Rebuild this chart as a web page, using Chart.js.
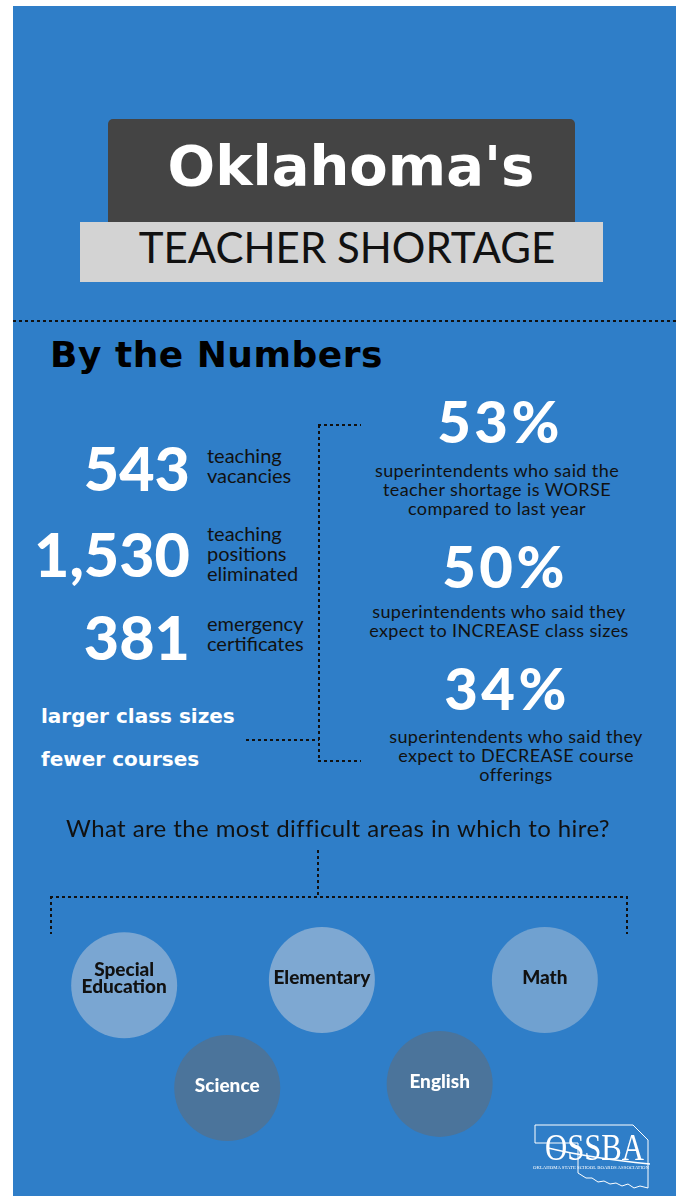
<!DOCTYPE html>
<html>
<head>
<meta charset="utf-8">
<script src="https://cdn.jsdelivr.net/npm/chart.js"></script>
<style>
  html, body { margin: 0; padding: 0; background: #fff; }
  body { width: 676px; height: 1199px; position: relative; overflow: hidden; font-family: Lato, "Noto Sans", sans-serif; }
  #page { position: absolute; left: 13px; top: 6px; width: 663px; height: 1190px; background: #2f7ec8; }
  .abs { position: absolute; white-space: nowrap; }
  .hdash { position: absolute; height: 2px; background: repeating-linear-gradient(to right, #111 0 3px, transparent 3px 6px); }
  .vdash { position: absolute; width: 2px; background: repeating-linear-gradient(to bottom, #111 0 3px, transparent 3px 6px); }
  /* bubble chart pads its area by the bubble radius (53px), so the canvas sticks out by that much */
  #areas { position: absolute; left: -34px; top: 823px; }
</style>
</head>
<body>
<div id="page"></div>
<div class="abs" style="left:108px;top:119px;width:467px;height:103px;background:#444;border-radius:5px 5px 0 0"></div>
<div class="abs" style="left:80px;top:222px;width:523px;height:60px;background:#d3d3d3"></div>

<!-- dotted connectors -->
<div class="hdash" style="left:13px;top:320px;width:663px"></div>
<div class="vdash" style="left:318px;top:425px;height:336px"></div>
<div class="hdash" style="left:318px;top:424px;width:43px"></div>
<div class="hdash" style="left:246px;top:739px;width:73px"></div>
<div class="hdash" style="left:318px;top:760px;width:43px"></div>
<div class="vdash" style="left:317px;top:850px;height:46px"></div>
<div class="hdash" style="left:50px;top:896px;width:578px"></div>
<div class="vdash" style="left:50px;top:896px;height:38px"></div>
<div class="vdash" style="left:626px;top:896px;height:38px"></div>

<canvas id="areas" width="737" height="421"></canvas>

<svg class="abs" style="left:530px;top:1118px" width="125" height="75" viewBox="0 0 125 75">
  <path d="M5 7 L103 7 L118 22 L118 70 L110 68 L104 70 L98 66 L92 68 L86 65 L80 66 L74 63 L68 64 L62 60 L56 60 L48 55 L48 25 L5 25 Z"
        fill="none" stroke="#fff" stroke-width="1"/>
  <text x="15" y="42" font-family="Liberation Serif" font-size="38" fill="#fff" textLength="99" lengthAdjust="spacingAndGlyphs">OSSBA</text>
  <path d="M18 30 Q60 40 120 46" fill="none" stroke="#fff" stroke-width="1.5"/>
  <text x="3" y="51" font-family="Liberation Serif" font-size="5" fill="#fff" textLength="116" lengthAdjust="spacingAndGlyphs">OKLAHOMA STATE SCHOOL BOARDS ASSOCIATION</text>
</svg>

<script>
// header
const title = "Oklahoma's";
const subtitle = 'TEACHER SHORTAGE';
const sectionTitle = 'By the Numbers';

// left column numbers
const statValues = ['543', '1,530', '381'];
const statLabels = [['teaching', 'vacancies'], ['teaching', 'positions', 'eliminated'], ['emergency', 'certificates']];
const effects = ['larger class sizes', 'fewer courses'];

// superintendent survey
const surveyPcts = [53, 50, 34];
const surveyText = [
  ['superintendents who said the', 'teacher shortage is WORSE', 'compared to last year'],
  ['superintendents who said they', 'expect to INCREASE class sizes'],
  ['superintendents who said they', 'expect to DECREASE course', 'offerings']
];

// hardest areas to hire
const question = 'What are the most difficult areas in which to hire?';
const areas = ['Special Education', 'Elementary', 'Math', 'Science', 'English'];
const areaCol = [1, 2.88, 5, 1.98, 4.0];
const areaRow = [1.04, 0.99, 0.99, 2.02, 1.98];

// font metrics (ascent, descent) so a line can be put on a baseline
const METRICS = { Lato: [0.987, 0.213], 'DejaVu Sans': [0.928, 0.236] };

function txt(lines, x, base, size, weight, color, align, lh, family, spacing) {
  lh = lh || size;
  family = family || 'Lato';
  const [asc, desc] = METRICS[family];
  const d = document.createElement('div');
  d.className = 'abs';
  d.innerHTML = [].concat(lines).join('<br>');
  const top = base - ((lh - (asc + desc) * size) / 2 + asc * size);
  d.style.cssText += `top:${top}px;font-family:'${family}';font-size:${size}px;font-weight:${weight};color:${color};` +
    `line-height:${lh}px;text-align:${align};letter-spacing:${spacing || 0}px;`;
  if (align === 'center') { d.style.left = x + 'px'; d.style.transform = 'translateX(-50%)'; }
  else if (align === 'right') { d.style.right = (676 - x) + 'px'; }
  else { d.style.left = x + 'px'; }
  document.body.appendChild(d);
  return d;
}

txt(title, 351, 185, 56, 700, '#fff', 'center', 0, 'DejaVu Sans');
txt(subtitle, 347, 263, 42, 400, '#111', 'center');
txt(sectionTitle, 50, 367, 36, 700, '#000', 'left', 0, 'DejaVu Sans', 0.5);

const statBase = [491, 577, 660];
const labelBase = [463, 541, 631];
statValues.forEach((v, i) => {
  txt(v, 190, statBase[i], 61, 900, '#fff', 'right');
  txt(statLabels[i], 207, labelBase[i], 20, 400, '#111', 'left', 20);
});

const effBase = [723, 766];
effects.forEach((e, i) => txt(e, 41, effBase[i], 20, 700, '#fff', 'left', 0, 'DejaVu Sans'));

const pctX = [500, 505, 507];
const pctBase = [443, 588, 710];
const descX = [497, 499, 516];
const descBase = [477, 618, 743];
surveyPcts.forEach((p, i) => {
  txt(p + '%', pctX[i], pctBase[i], 58, 900, '#fff', 'center', 0, 'Lato', 3.5);
  txt(surveyText[i], descX[i], descBase[i], 18, 400, '#111', 'center', 19, 'Lato', 0.4);
});

txt(question, 338, 837, 24, 400, '#111', 'center', 0, 'Lato', 0.4);

// names written inside each circle
const areaLabels = {
  id: 'areaLabels',
  afterDatasetsDraw(chart) {
    const ctx = chart.ctx;
    chart.getDatasetMeta(0).data.forEach((pt, i) => {
      const lines = areas[i].split(' ');
      ctx.save();
      ctx.font = '900 19px Lato';
      ctx.textAlign = 'center';
      ctx.textBaseline = 'middle';
      ctx.fillStyle = i < 3 ? '#111' : '#fff';
      const lh = 17;
      const lift = 2 + (lines.length - 1) * 5;
      lines.forEach((l, j) => {
        ctx.fillText(l, pt.x, pt.y + (j - (lines.length - 1) / 2) * lh - lift);
      });
      ctx.restore();
    });
  }
};

new Chart(document.getElementById('areas'), {
  type: 'bubble',
  data: {
    datasets: [{
      data: areas.map((a, i) => ({ x: areaCol[i], y: areaRow[i] })),
      radius: 53,
      hoverRadius: 0,
      borderWidth: 0,
      backgroundColor: ['#7aa6d2', '#7ea8d2', '#70a1d0', '#4b749b', '#4b749b'],
      clip: false
    }]
  },
  options: {
    responsive: false,
    devicePixelRatio: 1,
    animation: false,
    events: [],
    layout: { padding: 0 },
    plugins: { legend: { display: false }, tooltip: { enabled: false } },
    scales: {
      x: { type: 'linear', min: 0, max: 6, display: false },
      y: { type: 'linear', min: 0, max: 3, reverse: true, display: false }
    }
  },
  plugins: [areaLabels]
});
</script>
</body>
</html>
